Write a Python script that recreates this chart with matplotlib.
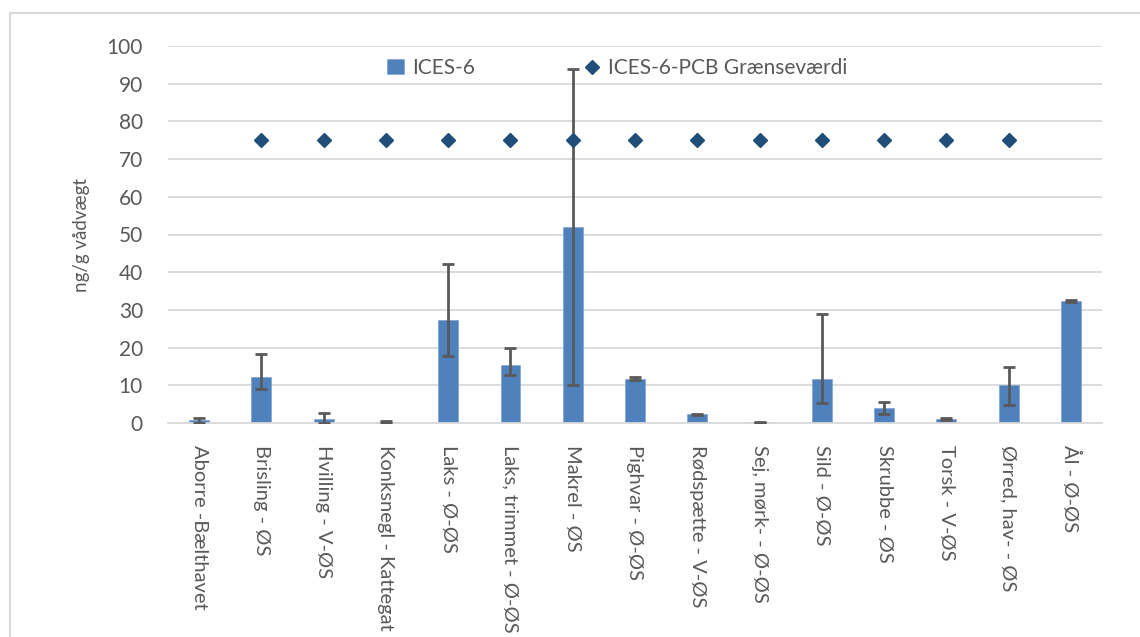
import matplotlib.pyplot as plt
import matplotlib.patches as patches
import numpy as np

categories = ['Aborre -Bælthavet', 'Brisling - ØS', 'Hvilling - V-ØS', 'Konksnegl - Kattegat',
              'Laks - Ø-ØS', 'Laks, trimmet - Ø-ØS', 'Makrel - ØS', 'Pighvar - Ø-ØS',
              'Rødspætte - V-ØS', 'Sej, mørk- - Ø-ØS', 'Sild - Ø-ØS', 'Skrubbe - ØS',
              'Torsk - V-ØS', 'Ørred, hav- - ØS', 'Ål - Ø-ØS']
ices6 = [0.7, 12.2, 1.1, 0.3, 27.4, 15.5, 52.0, 11.8, 2.3, 0.2, 11.8, 4.0, 1.1, 10.0, 32.3]
err_minus = [0.6, 3.2, 1.1, 0.2, 9.6, 2.9, 42.0, 0.3, 0.2, 0.15, 6.6, 1.7, 0.2, 5.1, 0.2]
err_plus = [0.6, 6.1, 1.6, 0.2, 14.9, 4.3, 41.8, 0.3, 0.2, 0.15, 17.2, 1.6, 0.2, 4.9, 0.2]
limit = [np.nan] + [75] * 13 + [np.nan]

plt.rcParams['font.family'] = ['Lato', 'DejaVu Sans']
grey = '#595959'

fig = plt.figure(figsize=(11.4, 6.37), dpi=100)
ax = fig.add_axes([168/1140, 1 - 423/637, (1102-168)/1140, (423-46)/637])

# outer chart border
fig.patches.append(patches.Rectangle((10/1140, -0.1), 1.2, 1 - 13/637 + 0.1,
                                     transform=fig.transFigure, fill=False,
                                     edgecolor='#D9D9D9', linewidth=1.5))

x = np.arange(len(categories))
bars = ax.bar(x, ices6, width=0.32, color='#4F81BD', edgecolor='#7FA3D3', linewidth=0.5,
              label='ICES-6', zorder=2)
ax.errorbar(x, ices6, yerr=[err_minus, err_plus], fmt='none', ecolor=grey,
            elinewidth=2, capsize=4.3, capthick=2, zorder=3)
pts, = ax.plot(x, limit, linestyle='none', marker='D', markersize=7.5, color='#1F4E79',
               label='ICES-6-PCB Grænseværdi', zorder=4)

ax.set_xlim(-0.5, len(categories) - 0.5)
ax.set_ylim(0, 100)
ax.set_yticks(range(0, 101, 10))
ax.grid(axis='y', color='#D9D9D9', linewidth=1.3, zorder=0)
ax.set_axisbelow(True)
for s in ['top', 'right', 'left']:
    ax.spines[s].set_visible(False)
ax.spines['bottom'].set_color('#D9D9D9')
ax.spines['bottom'].set_linewidth(1.3)
ax.tick_params(axis='both', length=0, colors=grey, labelsize=15)
ax.tick_params(axis='y', pad=18)
ax.set_xticks(x)
ax.set_xticklabels(categories, rotation=-90, fontsize=14.5, color=grey, va='top', ha='center')
ax.tick_params(axis='x', pad=16)
ax.set_ylabel('ng/g vådvægt', fontsize=13.5, color=grey, labelpad=12)

ax.legend([bars, pts], ['ICES-6', 'ICES-6-PCB Grænseværdi'],
          loc='center', bbox_to_anchor=(0.481, 0.942), ncol=2, frameon=False,
          fontsize=15, labelcolor=grey, columnspacing=5.2, handlelength=0.8,
          handletextpad=0.4)

fig.savefig('out.png', dpi=100)
